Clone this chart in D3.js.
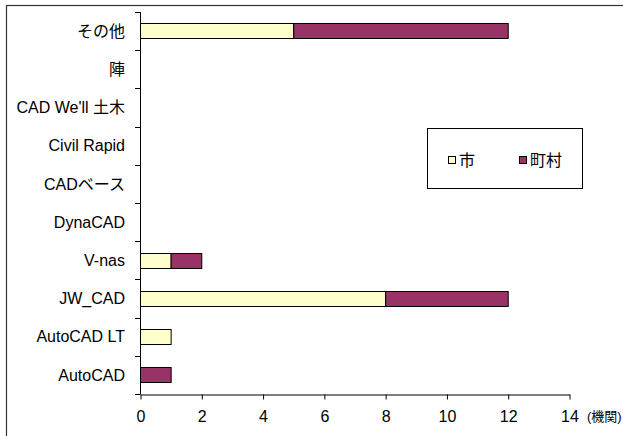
<!DOCTYPE html>
<html>
<head>
<meta charset="utf-8">
<script src="https://cdn.jsdelivr.net/npm/d3@7"></script>
<style>
  html, body { margin: 0; padding: 0; background: #fff; }
  svg { display: block; }
  text { font-family: "Liberation Sans", Arial, "Noto Sans CJK JP", sans-serif; fill: #000; }
</style>
</head>
<body>
<svg id="chart" width="623" height="436"></svg>
<script>
// Software names, listed bottom to top as on the axis
const categories = ["AutoCAD", "AutoCAD LT", "JW_CAD", "V-nas", "DynaCAD", "CADベース", "Civil Rapid", "CAD We'll 土木", "陣", "その他"];
const cityValues = [0, 1, 8, 1, 0, 0, 0, 0, 0, 5];   // 市
const townValues = [1, 0, 4, 1, 0, 0, 0, 0, 0, 7];   // 町村
const seriesNames = ["市", "町村"];
const seriesColors = ["#FFFFCC", "#993366"];
const xTicks = [0, 2, 4, 6, 8, 10, 12, 14];
const unitLabel = "(機関)";

const svg = d3.select("#chart");

// outer frame
svg.append("rect")
  .attr("x", 6.5).attr("y", 5.5)
  .attr("width", 640).attr("height", 460)
  .attr("fill", "none").attr("stroke", "#333").attr("stroke-width", 1.2);

const plotLeft = 140, plotRight = 569, plotTop = 12, plotBottom = 394;

const x = d3.scaleLinear().domain([0, 14]).range([plotLeft, plotRight]);
const y = d3.scaleBand().domain(categories.slice().reverse()).range([plotTop, plotBottom]).paddingInner(0.6).paddingOuter(0.3);

const rows = categories.map((c, i) => ({ cat: c, vals: [cityValues[i], townValues[i]] }));
const stack = d3.stack().keys([0, 1]).value((d, k) => d.vals[k])(rows);

// bars
stack.forEach((layer, si) => {
  svg.append("g").selectAll("rect")
    .data(layer.filter(d => d[1] - d[0] > 0))
    .join("rect")
    .attr("x", d => x(d[0]) + 0.5)
    .attr("y", d => Math.round(y(d.data.cat)) + 0.5)
    .attr("width", d => x(d[1]) - x(d[0]))
    .attr("height", Math.round(y.bandwidth()))
    .attr("fill", seriesColors[si])
    .attr("stroke", "#000")
    .attr("stroke-width", 1);
});

// x axis
const xAxis = d3.axisBottom(x).tickValues(xTicks).tickSize(5).tickPadding(11).tickSizeOuter(0);
const gx = svg.append("g").attr("transform", `translate(0.5,${plotBottom + 0.5})`).call(xAxis);
gx.select(".domain").attr("stroke", "#000");
gx.selectAll(".tick line").attr("stroke", "#000");
gx.selectAll(".tick text").attr("font-size", 16);

// unit label
svg.append("text")
  .attr("x", 587).attr("y", 421)
  .attr("font-size", 13)
  .text(unitLabel);

// y axis: ticks sit at category boundaries
const step = (plotBottom - plotTop) / categories.length;
const gy = svg.append("g");
gy.append("line")
  .attr("x1", plotLeft + 0.5).attr("x2", plotLeft + 0.5)
  .attr("y1", plotTop).attr("y2", plotBottom + 0.5)
  .attr("stroke", "#000");
gy.selectAll("line.tk")
  .data(d3.range(categories.length + 1))
  .join("line")
  .attr("class", "tk")
  .attr("x1", plotLeft - 5).attr("x2", plotLeft + 0.5)
  .attr("y1", i => Math.round(plotTop + i * step) + 0.5)
  .attr("y2", i => Math.round(plotTop + i * step) + 0.5)
  .attr("stroke", "#000");
gy.selectAll("text")
  .data(categories)
  .join("text")
  .attr("x", 125)
  .attr("y", d => y(d) + y.bandwidth() / 2)
  .attr("dy", "0.35em")
  .attr("text-anchor", "end")
  .attr("font-size", 16)
  .text(d => d);

// legend
const lg = svg.append("g");
lg.append("rect")
  .attr("x", 427.5).attr("y", 128.5)
  .attr("width", 155).attr("height", 60)
  .attr("fill", "#fff").attr("stroke", "#000");
const legendX = [448, 519];
seriesNames.forEach((n, i) => {
  lg.append("rect")
    .attr("x", legendX[i] + 0.5).attr("y", 156.5)
    .attr("width", 7).attr("height", 7)
    .attr("fill", seriesColors[i]).attr("stroke", "#000");
  lg.append("text")
    .attr("x", legendX[i] + 11).attr("y", 160)
    .attr("dy", "0.35em")
    .attr("font-size", 16)
    .text(n);
});
</script>
</body>
</html>
